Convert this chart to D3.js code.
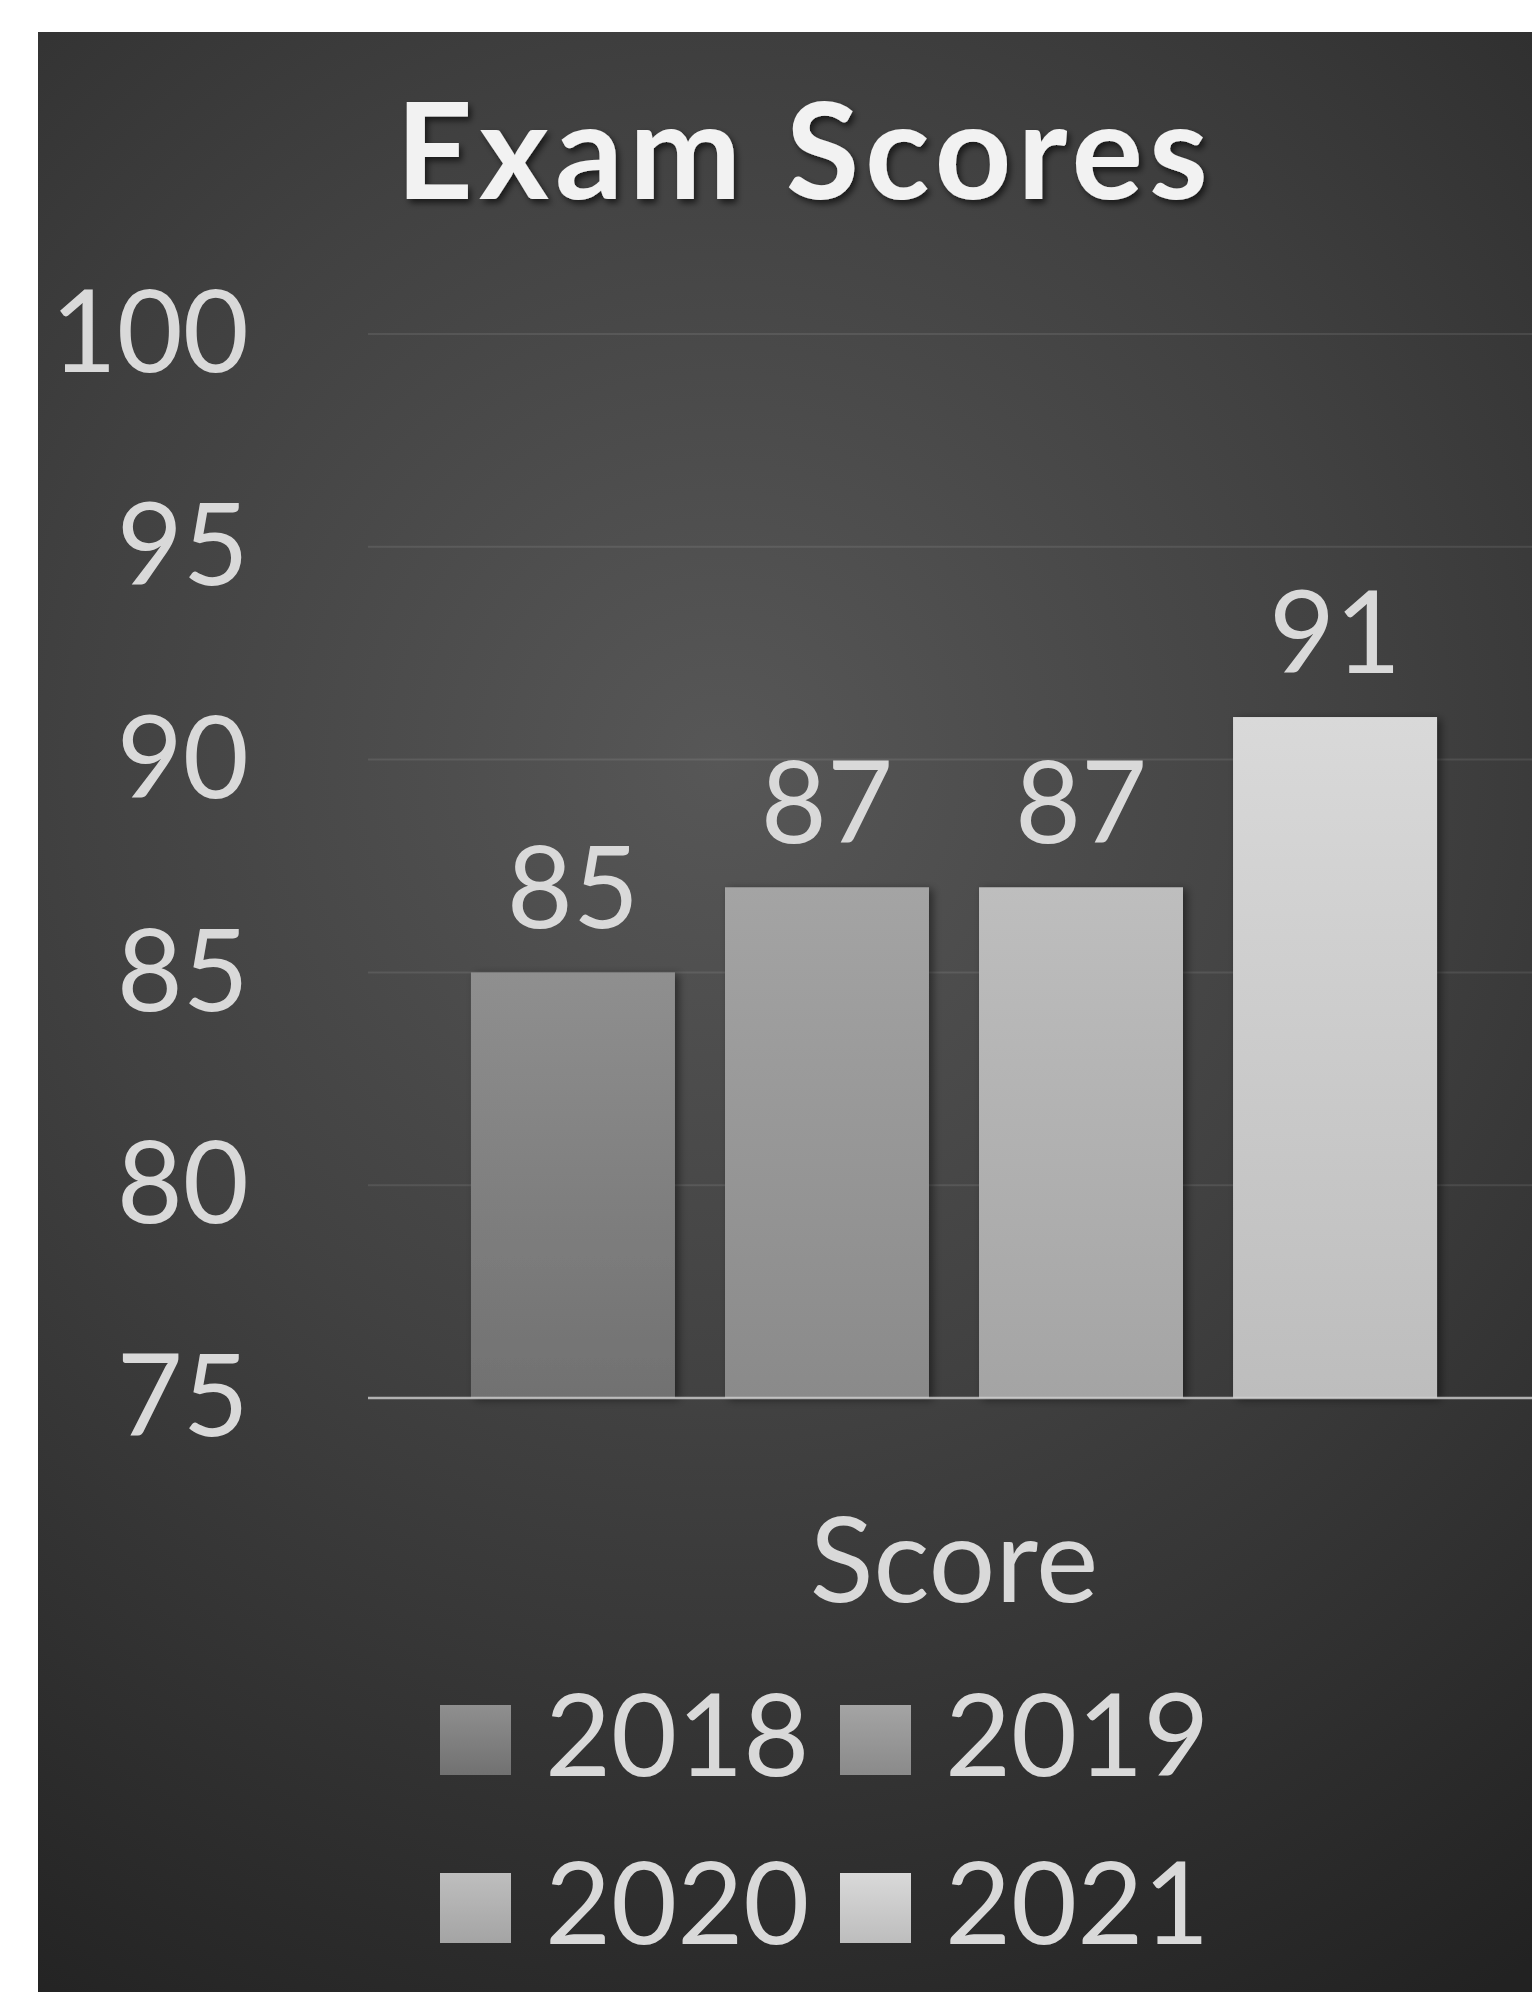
<!DOCTYPE html>
<html>
<head>
<meta charset="utf-8">
<script src="https://cdn.jsdelivr.net/npm/d3@7"></script>
<style>
  html, body { margin: 0; padding: 0; background: #ffffff; overflow: hidden; }
  svg { display: block; }
  text { font-family: "Lato", "Open Sans", sans-serif; }
</style>
</head>
<body>
<svg id="chart" width="1532" height="1992"></svg>
<script>
// ---- data ----
const title = "Exam Scores";
const categories = ["Score"];
const seriesNames = ["2018", "2019", "2020", "2021"];
const seriesValues = [85, 87, 87, 91];
const yTicks = [75, 80, 85, 90, 95, 100];
const seriesTop = ["#8f8f8f", "#a4a4a4", "#bebebe", "#d9d9d9"];
const seriesBottom = ["#717171", "#8a8a8a", "#a4a4a4", "#bdbdbd"];

const W = 1532, H = 1992;
const svg = d3.select("#chart");
const defs = svg.append("defs");

// background radial gradient
const bg = defs.append("radialGradient").attr("id", "bgGrad")
  .attr("gradientUnits", "userSpaceOnUse")
  .attr("cx", 720).attr("cy", 760).attr("r", 1450);
bg.append("stop").attr("offset", "0").attr("stop-color", "#575757");
bg.append("stop").attr("offset", "0.45").attr("stop-color", "#414141");
bg.append("stop").attr("offset", "1").attr("stop-color", "#222222");

seriesNames.forEach((s, i) => {
  const g = defs.append("linearGradient").attr("id", "barGrad" + i)
    .attr("x1", 0).attr("y1", 0).attr("x2", 0).attr("y2", 1);
  g.append("stop").attr("offset", "0").attr("stop-color", seriesTop[i]);
  g.append("stop").attr("offset", "1").attr("stop-color", seriesBottom[i]);
});

const shadow = defs.append("filter").attr("id", "barShadow")
  .attr("x", "-10%").attr("y", "-10%").attr("width", "130%").attr("height", "130%");
shadow.append("feDropShadow").attr("dx", 4).attr("dy", 2).attr("stdDeviation", 4)
  .attr("flood-color", "#000").attr("flood-opacity", 0.45);

const tshadow = defs.append("filter").attr("id", "titleShadow")
  .attr("x", "-10%").attr("y", "-20%").attr("width", "120%").attr("height", "150%");
tshadow.append("feDropShadow").attr("dx", 3).attr("dy", 4).attr("stdDeviation", 3)
  .attr("flood-color", "#000").attr("flood-opacity", 0.6);

// panel
svg.append("rect").attr("x", 38).attr("y", 32).attr("width", W - 38 + 40).attr("height", H)
  .attr("fill", "url(#bgGrad)");

// scales
const plotLeft = 368, plotRight = 1540;
const y = d3.scaleLinear().domain([75, 100]).range([1398, 334]);
const x0 = d3.scaleBand().domain(categories).range([plotLeft, plotRight])
  .paddingInner(0).paddingOuter(0.1066);
const x1 = d3.scaleBand().domain(seriesNames).range([0, x0.bandwidth()])
  .paddingInner(0.197).paddingOuter(0);

// gridlines
svg.append("g").selectAll("line").data(yTicks.filter(t => t !== 75)).join("line")
  .attr("x1", plotLeft).attr("x2", W)
  .attr("y1", d => y(d)).attr("y2", d => y(d))
  .attr("stroke", "#ffffff").attr("stroke-opacity", 0.09).attr("stroke-width", 2);

// y axis labels
const yAxis = d3.axisLeft(y).tickValues(yTicks).tickSize(0).tickPadding(0);
const yg = svg.append("g").attr("transform", "translate(249,0)").call(yAxis);
yg.select(".domain").remove();
yg.selectAll("text")
  .attr("fill", "#d9d9d9").attr("font-size", 114).attr("font-family", "Lato")
  .attr("dy", "0.33em").attr("x", 0);

// bars
const bars = svg.append("g");
categories.forEach(cat => {
  bars.selectAll(null).data(seriesNames).join("rect")
    .attr("x", s => x0(cat) + x1(s))
    .attr("width", x1.bandwidth())
    .attr("y", (s, i) => y(seriesValues[i]))
    .attr("height", (s, i) => y(75) - y(seriesValues[i]))
    .attr("fill", (s, i) => `url(#barGrad${i})`)
    .attr("filter", "url(#barShadow)");
  // data labels
  bars.selectAll(null).data(seriesNames).join("text")
    .attr("x", s => x0(cat) + x1(s) + x1.bandwidth() / 2)
    .attr("y", (s, i) => y(seriesValues[i]) - 44)
    .attr("text-anchor", "middle")
    .attr("fill", "#d9d9d9").attr("font-size", 114)
    .text((s, i) => seriesValues[i]);
});

// x axis line
svg.append("line").attr("x1", plotLeft).attr("x2", W)
  .attr("y1", y(75)).attr("y2", y(75))
  .attr("stroke", "#d0d0d0").attr("stroke-opacity", 0.8).attr("stroke-width", 2.5);

// category label
svg.append("text").attr("x", x0("Score") + x0.bandwidth() / 2).attr("y", 1602)
  .attr("text-anchor", "middle").attr("fill", "#d9d9d9").attr("font-size", 118)
  .text(categories[0]);

// title
svg.append("text").attr("x", 805).attr("y", 199)
  .attr("text-anchor", "middle").attr("fill", "#f2f2f2").attr("font-size", 134)
  .attr("font-weight", 700).attr("letter-spacing", 6).attr("filter", "url(#titleShadow)")
  .text(title);

// legend
const legendCols = [440, 840];
const legendRows = [1705, 1873];
const lg = svg.append("g");
seriesNames.forEach((s, i) => {
  const cx = legendCols[i % 2], cy = legendRows[Math.floor(i / 2)];
  lg.append("rect").attr("x", cx).attr("y", cy).attr("width", 71).attr("height", 70)
    .attr("fill", `url(#barGrad${i})`);
  lg.append("text").attr("x", cx + 105).attr("y", cy + 71)
    .attr("fill", "#d9d9d9").attr("font-size", 114).text(s);
});
</script>
</body>
</html>
